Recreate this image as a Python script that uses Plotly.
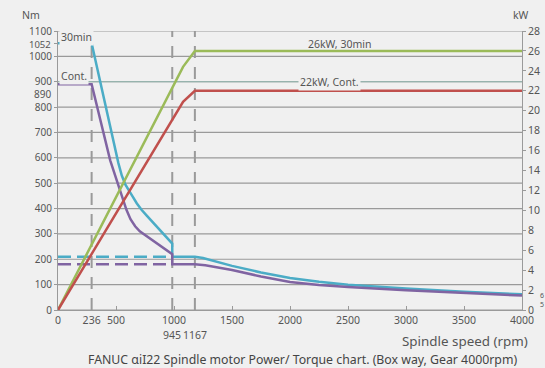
import plotly.graph_objects as go

# ---------------- data ----------------
speed_30min = [0, 290, 520, 550, 580, 610, 640, 680, 720, 765, 810, 855, 900, 945, 985, 985, 1180,
               1250, 1350, 1500, 1750, 2000, 2250, 2500, 3000, 3500, 4000]
torque_30min = [1052, 1052, 580, 530, 495, 470, 450, 420, 395, 372, 350, 327, 305, 283, 262, 210, 210,
                205, 192, 174, 148, 126, 111, 100, 85, 72, 62]

speed_cont = [0, 290, 450, 490, 520, 555, 590, 625, 665, 705, 750, 795, 840, 910, 985, 985, 1180,
              1270, 1380, 1500, 1750, 2000, 2250, 2500, 3000, 3500, 4000]
torque_cont = [890, 890, 590, 535, 495, 440, 395, 358, 330, 310, 295, 280, 265, 243, 220, 180, 180,
               176, 168, 158, 132, 110, 99, 91, 78, 67, 57]

dash_speed = [0, 985]
dash_torque_30min = [210, 210]
dash_torque_cont = [180, 180]

power_speed = [0, 1078, 1180, 4000]
power_30min = [0, 24.4, 26, 26]
power_cont = [0, 20.9, 22, 22]

marker_speeds = [290, 985, 1180]          # drawn positions of the dashed lines
marker_labels = ["236", "945", "1167"]    # labels shown for them
ref_torque = 900                          # thin "22kW, Cont." reference line

x_ticks = [0, 290, 500, 1000, 1500, 2000, 2500, 3000, 3500, 4000]
x_tick_text = ["0", "236", "500", "1000", "1500", "2000", "2500", "3000", "3500", "4000"]
y_ticks = [0, 100, 200, 300, 400, 500, 600, 700, 800, 900, 1000, 1052, 1100]
y_tick_text = ["0", "100", "200", "300", "400", "500", "600", "700", "800", "900", "1000", "", "1100"]
y2_ticks = list(range(0, 29, 2))

# ---------------- colours ----------------
C_CYAN = "#4BACC6"
C_PURPLE = "#8064A2"
C_GREEN = "#9BBB59"
C_RED = "#C0504D"
C_GRID = "#9a9a9a"
C_TXT = "#555555"
BG = "#f0f0f0"
FONT = "Noto Sans"

fig = go.Figure()

# vertical dashed marker lines
for xs in marker_speeds:
    fig.add_trace(go.Scatter(x=[xs, xs], y=[0, 1100], mode="lines",
                             line=dict(color="#9a9a9a", width=2, dash="12px,9px"),
                             hoverinfo="skip", showlegend=False))

# 900 Nm thin reference line
fig.add_trace(go.Scatter(x=[0, 4000], y=[ref_torque, ref_torque], mode="lines",
                         line=dict(color="#8fb4ad", width=1.2),
                         hoverinfo="skip", showlegend=False))

# dashed torque levels
fig.add_trace(go.Scatter(x=dash_speed, y=dash_torque_30min, mode="lines",
                         line=dict(color=C_CYAN, width=2.5, dash="13px,6px"), showlegend=False))
fig.add_trace(go.Scatter(x=dash_speed, y=dash_torque_cont, mode="lines",
                         line=dict(color=C_PURPLE, width=2.5, dash="13px,6px"), showlegend=False))

# power curves (right axis)
fig.add_trace(go.Scatter(x=power_speed, y=power_30min, mode="lines", yaxis="y2",
                         line=dict(color=C_GREEN, width=2.5), showlegend=False))
fig.add_trace(go.Scatter(x=power_speed, y=power_cont, mode="lines", yaxis="y2",
                         line=dict(color=C_RED, width=2.5), showlegend=False))

# torque curves
fig.add_trace(go.Scatter(x=speed_30min, y=torque_30min, mode="lines",
                         line=dict(color=C_CYAN, width=2.5), showlegend=False))
fig.add_trace(go.Scatter(x=speed_cont, y=torque_cont, mode="lines",
                         line=dict(color=C_PURPLE, width=2.5), showlegend=False))

L, R, T, B = 58, 23, 31, 58
W, H = 545, 368
pw, ph = W - L - R, H - T - B


def px(xp):
    return (xp - L) / pw


def py(yp):
    return (H - B - yp) / ph


ann = []
def add(text, x, y, xanchor="left", size=10.5, color=C_TXT, bg=None, xref="paper"):
    d = dict(text=text, x=x, y=y, xref=xref, yref="paper", xanchor=xanchor, yanchor="middle",
             showarrow=False, font=dict(family=FONT, size=size, color=color))
    if bg:
        d["bgcolor"] = bg
        d["borderpad"] = 1
    ann.append(d)

add("Nm", px(31), py(15), "center")
add("kW", px(521), py(15), "center")
add("1052", px(53), py(44), "right", size=9.5)
add("890", px(53), py(94), "right", size=10)
add("30min", px(59), py(37), "left", bg=BG)
add("Cont.", px(59), py(76), "left", bg=BG)
add("26kW, 30min", px(306), py(44), "left")
add("22kW, Cont.", px(298), py(82), "left", bg=BG)
add(marker_labels[1], marker_speeds[1], py(335), "center", xref="x")
add(marker_labels[2], marker_speeds[2], py(335), "center", xref="x")
add("Spindle speed (rpm)", px(530), py(341), "right", size=13.4)
add("FANUC αiI22 Spindle motor Power/ Torque chart. (Box way, Gear 4000rpm)",
    px(302), py(359), "center", size=12.3, color="#444444")
add("6", px(542), py(295), "center", size=7)
add("5", px(542), py(304), "center", size=7)

fig.update_layout(
    width=W, height=H,
    margin=dict(l=L, r=R, t=T, b=B, autoexpand=False),
    paper_bgcolor=BG, plot_bgcolor=BG,
    font=dict(family=FONT, size=10.5, color=C_TXT),
    showlegend=False,
    xaxis=dict(range=[0, 4000], tickvals=x_ticks, ticktext=x_tick_text, tickangle=0,
               showgrid=False, zeroline=False, showline=True, linecolor=C_GRID, linewidth=1,
               ticks="inside", ticklen=4, tickcolor=C_GRID,
               tickfont=dict(family=FONT, size=10.5, color=C_TXT), fixedrange=True),
    yaxis=dict(range=[0, 1100], tickvals=y_ticks, ticktext=y_tick_text, showgrid=False,
               zeroline=False, showline=True, linecolor=C_GRID, linewidth=1, ticks="outside",
               ticklen=3, tickcolor=C_GRID, tickfont=dict(family=FONT, size=10, color=C_TXT)),
    yaxis2=dict(range=[0, 28], tickvals=y2_ticks, overlaying="y", side="right",
                showgrid=False, zeroline=False, showline=True, linecolor=C_GRID, linewidth=1,
                ticks="outside", ticklen=3, tickcolor=C_GRID,
                tickfont=dict(family=FONT, size=10.5, color=C_TXT)),
    annotations=ann,
)

# horizontal grid lines (every 100 Nm) drawn beneath the data
for g in range(0, 1101, 100):
    fig.add_shape(type="line", xref="x", yref="y", x0=0, x1=4000, y0=g, y1=g,
                  line=dict(color=C_GRID, width=1.2), layer="below")

fig.write_html("out.html", config={"displayModeBar": False},
               post_script="document.body.style.margin='0';document.body.style.background='%s';" % BG)
